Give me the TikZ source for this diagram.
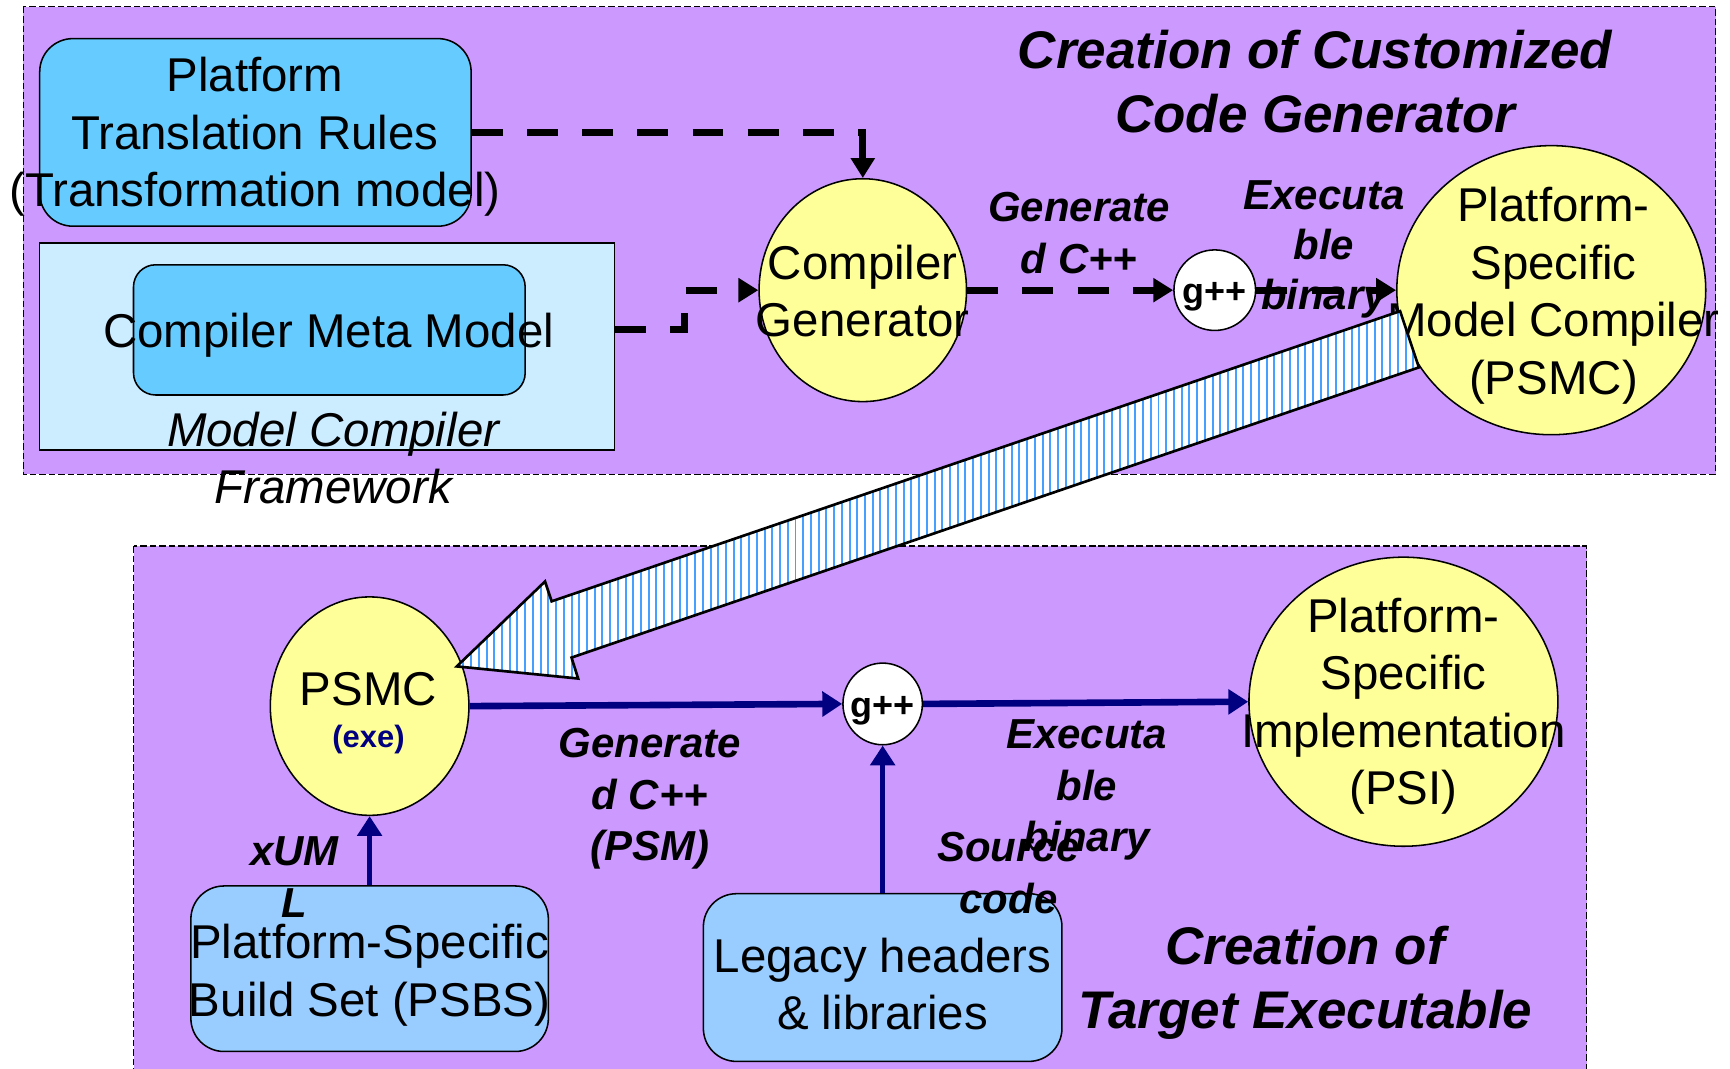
\documentclass[tikz,border=0pt]{standalone}
\usepackage{fontspec}
\setmainfont{Liberation Sans}
\usetikzlibrary{arrows.meta,shapes.geometric,patterns.meta}

\definecolor{panelpurple}{HTML}{CC99FF}
\definecolor{boxcyan}{HTML}{66CCFF}
\definecolor{frameblue}{HTML}{CCECFF}
\definecolor{paleblue}{HTML}{99CCFF}
\definecolor{ovalyellow}{HTML}{FFFF99}
\definecolor{navyblue}{HTML}{000080}
\definecolor{stripeblue}{RGB}{70,160,255}

\newcommand\mainsz{\fontsize{21.5pt}{26pt}\selectfont}
\newcommand\lblsz{\fontsize{19pt}{23.5pt}\selectfont\bfseries\itshape}
\newcommand\ttlsz{\fontsize{24pt}{29pt}\selectfont\bfseries\itshape}
\newcommand\gppsz{\fontsize{16.3pt}{19pt}\selectfont\bfseries}
\newcommand\exesz{\fontsize{14pt}{17pt}\selectfont\bfseries}

\begin{document}
\begin{tikzpicture}[x=0.5pt,y=-0.5pt,
  panel/.style={draw=black,line width=0.6pt,dash pattern=on 3pt off 1.3pt,fill=panelpurple},
  outline/.style={draw=black,line width=0.7pt},
  bluebox/.style={outline,rounded corners=15pt,fill=boxcyan,inner sep=0},
  oval/.style={ellipse,outline,fill=ovalyellow,inner sep=0},
  gpp/.style={ellipse,outline,fill=white,inner sep=0},
  gtxt/.style={inner sep=0,anchor=base,font=\gppsz},
  txt/.style={inner sep=0,align=center,font=\mainsz},
  lbl/.style={inner sep=0,align=center,font=\lblsz},
  ttl/.style={inner sep=0,align=center,font=\ttlsz},
  dashflow/.style={draw=black,line width=3.2pt,dash pattern=on 14pt off 11pt,
    -{Triangle[length=9pt,width=10.5pt]}},
  navyflow/.style={draw=navyblue,line width=3pt,
    -{Triangle[length=9pt,width=11pt]}},
  stripes/.style={draw=black,line width=1.2pt,line join=miter,
    preaction={fill=white},
    pattern={Lines[angle=90,distance=3.5pt,line width=0.9pt]},
    pattern color=stripeblue},
]
\useasboundingbox (0,0) rectangle (1568,968);
\fill[white] (0,0) rectangle (1568,968);

% two stage panels
\path[panel] (21,6) rectangle (1555,430);
\path[panel] (121,495) rectangle (1438,990);

% ---- stage 1: building the model compiler ----
\node[bluebox,minimum width=195.5pt,minimum height=85pt] (ptr) at (231.5,120) {};
\node[outline,fill=frameblue,inner sep=0,minimum width=260.5pt,minimum height=94pt] (fw) at (296.5,314) {};
\node[bluebox,rounded corners=10pt,minimum width=177.5pt,minimum height=59pt] (cmm) at (298.5,299) {};
\node[oval,minimum width=94pt,minimum height=101pt] (cg) at (782,263) {};
\node[gpp,minimum width=37pt,minimum height=36.5pt] (g1) at (1101,263) {};
\node[oval,minimum width=140pt,minimum height=131pt] (psmc) at (1406,263) {};

\node[txt] (ptr-t) at (231,124) {Platform\\Translation Rules\\(Transformation model)};
\node[txt,font=\mainsz\itshape] (fw-t) at (302,415) {Model Compiler\\Framework};
\node[txt] (cmm-t) at (298,304) {Compiler Meta Model};
\node[txt] (cg-t) at (782,264) {Compiler\\Generator};
\node[txt] (psmc-t) at (1408,268) {Platform-\\Specific\\Model Compiler\\(PSMC)};
\node[gtxt] (g1-t) at (1101,275) {g++};

\draw[dashflow] (ptr.east) -| (cg.north);
\draw[dashflow] (fw.east |- cmm.east) -- ++(63,0) |- (cg.west);
\draw[dashflow] (cg.east) -- (g1.west);
\draw[dashflow] (g1.east) -- (psmc.west);

% ---- stage 2: building the target ----
\node[oval,minimum width=90pt,minimum height=99pt] (exe) at (335,640) {};
\node[gpp,minimum width=36pt,minimum height=37pt] (g2) at (800,638) {};
\node[oval,minimum width=140pt,minimum height=131pt] (psi) at (1272,636) {};
\node[bluebox,fill=paleblue,minimum width=162pt,minimum height=75pt] (psbs) at (335,878) {};
\node[bluebox,fill=paleblue,minimum width=162.5pt,minimum height=76pt] (leg) at (800,886) {};

\node[txt] (exe-t) at (334,625) {PSMC};
\node[inner sep=0,font=\exesz,text=navyblue] (exe-s) at (334,670) {(exe)};
\node[gtxt] (g2-t) at (800,650) {g++};
\node[txt] (psi-t) at (1272,640) {Platform-\\Specific\\Implementation\\(PSI)};
\node[txt] (psbs-t) at (335,884) {Platform-Specific\\Build Set (PSBS)};
\node[txt] (leg-t) at (800,892) {Legacy headers\\\& libraries};

\draw[navyflow] (exe.east) -- (g2.west);
\draw[navyflow] (g2.east) -- (psi.west);
\draw[navyflow,line width=2.2pt] (psbs.north) -- (exe.south);
\draw[navyflow,line width=2.2pt] (leg.north) -- (g2.south);

% hand-over of the generated compiler
\coordinate (hTip) at (414,604);
\coordinate (hUp) at (494,527);
\coordinate (hUpIn) at (500,545);
\coordinate (tUp) at (1269,282);
\coordinate (tLow) at (1286,333);
\coordinate (hLowIn) at (518,596);
\coordinate (hLow) at (524,615);
\draw[stripes] (hTip) -- (hUp) -- (hUpIn) -- (tUp) -- (tLow) -- (hLowIn) -- (hLow) -- cycle;

% labels and titles
\node[lbl] (gen1) at (978,211) {Generate\\d C++};
\node[lbl,font=\fontsize{19pt}{22.5pt}\selectfont\bfseries\itshape] (exec1) at (1200,226) {Executa\\ble\\binary};
\node[ttl] (ttl1) at (1192,74) {Creation of Customized\\Code Generator};

\node[lbl] (gen2) at (589,724) {Generate\\d C++\\(PSM)};
\node[lbl] (exec2) at (985,716) {Executa\\ble\\binary};
\node[lbl] (src) at (914,791) {Source\\code};
\node[lbl] (xuml) at (267,795) {xUM\\L};
\node[ttl] (ttl2) at (1183,891) {Creation of\\Target Executable};
\end{tikzpicture}
\end{document}
